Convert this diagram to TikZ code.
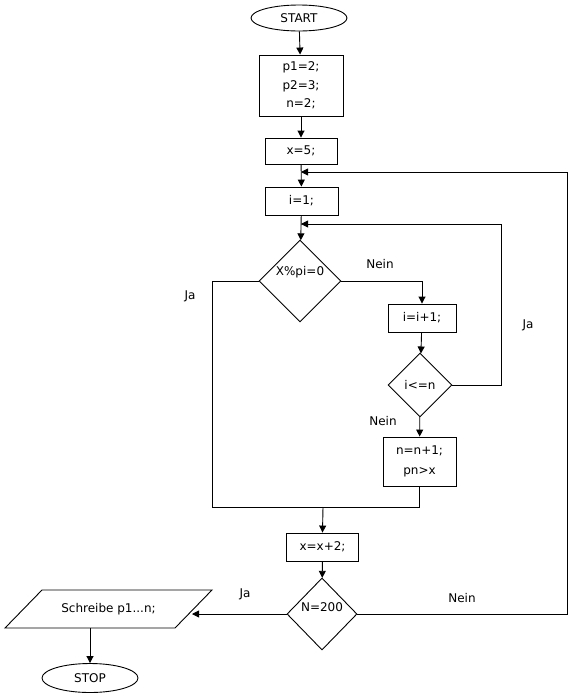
\documentclass[tikz,border=0pt]{standalone}
\usepackage{fontspec}
\setmainfont{DejaVu Sans}
\usetikzlibrary{shapes.geometric,arrows.meta}
\begin{document}
\begin{tikzpicture}[x=1pt,y=-1pt,
  every node/.style={font=\fontsize{12}{14}\selectfont},
  ln/.style={line width=0.9pt},
  arr/.style={ln,-{Triangle[length=7pt,width=7pt]}},
  box/.style={draw,ln,rectangle,inner sep=0pt,align=center},
  term/.style={draw,ln,ellipse,inner sep=0pt},
  dec/.style={draw,ln,diamond,inner sep=0pt},
  lbl/.style={inner sep=0pt}]
\useasboundingbox (0,0) rectangle (568,697);

\node[term,minimum width=96,minimum height=26] (start) at (299,18) {START};
\node[box,minimum width=84,minimum height=61,font=\fontsize{12}{18.5}\selectfont] (init) at (301,85.5) {p1=2;\\p2=3;\\n=2;};
\node[box,minimum width=72,minimum height=26] (x5) at (301,151) {x=5;};
\node[box,minimum width=73,minimum height=28] (i1) at (301.5,201) {i=1;};
\node[dec,minimum width=82,minimum height=82] (d1) at (300,281) {};
\node[lbl] (d1t) at (300,272) {X\%pi=0};
\node[box,minimum width=68,minimum height=28] (ii) at (422,318) {i=i+1;};
\node[dec,minimum width=64,minimum height=64] (d2) at (420,385) {i<=n};
\node[box,minimum width=73,minimum height=49,font=\fontsize{12}{20}\selectfont] (nn) at (419.5,461.5) {n=n+1;\\pn>x};
\node[box,minimum width=72,minimum height=28] (xx) at (322.5,547) {x=x+2;};
\node[dec,minimum width=70,minimum height=72] (d3) at (322,614) {};
\node[lbl] (d3t) at (322,607) {N=200};
\node[lbl,minimum width=170,minimum height=38] (out) at (108.5,609) {Schreibe p1...n;};
\draw[ln] (42,590) -- (212,590) -- (175,628) -- (5,628) -- cycle;
\node[term,minimum width=96,minimum height=29] (stop) at (90,678) {STOP};

\coordinate (j1) at (301,172);
\coordinate (j2) at (301,224);
\coordinate (m) at (323,507);
\coordinate (oe) at (192,614);
\coordinate (os) at (90,628);

\draw[arr] (start) -- (init);
\draw[arr] (init) -- (x5);
\draw[arr] (x5) -- (i1);
\draw[arr] (i1) -- (d1);
\draw[arr] (d1.east) -| (ii.north);
\draw[arr] (ii) -- (d2);
\draw[arr] (d2) -- (nn);
\draw[arr] (d2.east) -- ++(49,0) |- (j2);
\draw[ln] (nn.south) |- (212,507) |- (d1.west);
\draw[arr] (m) -- (xx.north);
\draw[arr] (xx) -- (d3);
\draw[arr] (d3.west) -- (oe);
\draw[arr] (d3.east) -- ++(210,0) |- (j1);
\draw[arr] (os) -- (stop.north);

\node[lbl] (ja1) at (190,296) {Ja};
\node[lbl] (nein1) at (380,264) {Nein};
\node[lbl] (ja2) at (528,325) {Ja};
\node[lbl] (nein2) at (383,421) {Nein};
\node[lbl] (ja3) at (245,594) {Ja};
\node[lbl] (nein3) at (462,598) {Nein};
\end{tikzpicture}
\end{document}
